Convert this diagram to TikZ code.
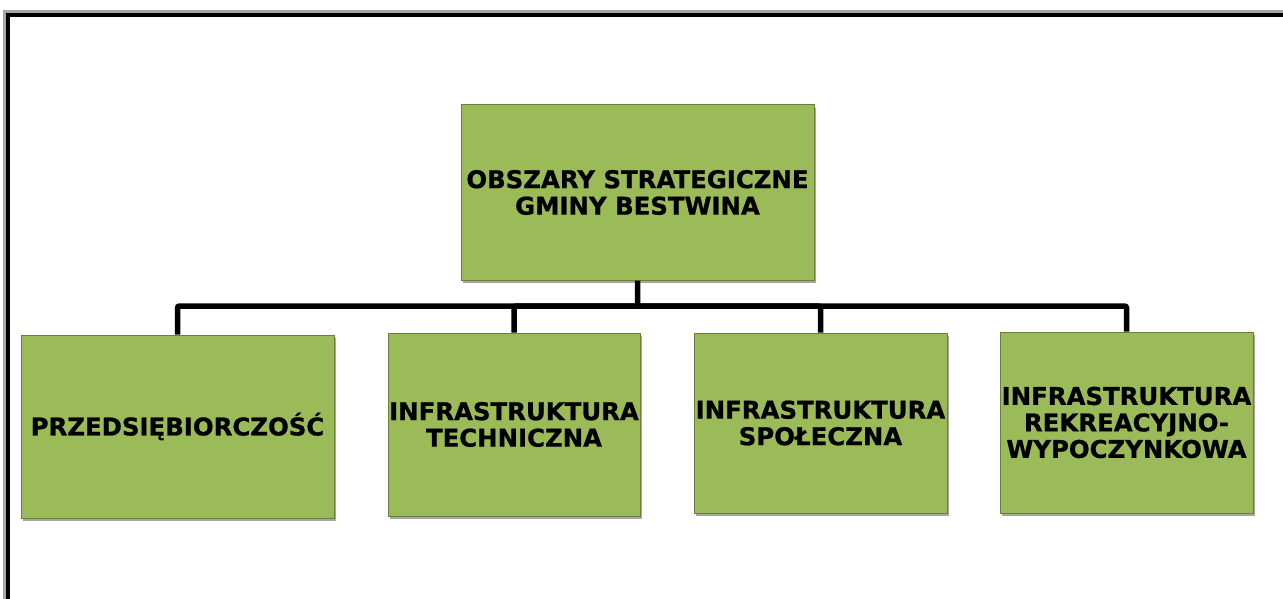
\documentclass[tikz,border=0pt]{standalone}
\usepackage{fontspec}
\setmainfont{DejaVu Sans}[BoldFeatures={FakeBold=0.9}]
\usetikzlibrary{shadows}
\definecolor{boxgreen}{HTML}{9BBB59}
\definecolor{boxedge}{HTML}{6A7F3C}
\begin{document}
\begin{tikzpicture}[x=1pt,y=-1pt,
  box/.style={draw=boxedge, line width=1pt, fill=boxgreen, rectangle, inner sep=0pt,
    align=center, font=\bfseries\fontsize{24.4}{26.5}\selectfont, text=black,
    drop shadow={shadow xshift=1.5pt, shadow yshift=-3pt, opacity=0.35, fill=black}},
  conn/.style={line width=5.5pt, black, rounded corners=2pt}]
\useasboundingbox (0,0) rectangle (1283,599);
% frame
\draw[line width=2.5pt, gray!70] (4.5,620) -- (4.5,11.5) -- (1300,11.5);
\draw[line width=3.5pt, black] (8,620) -- (8,15) -- (1300,15);
% boxes
\node[box, minimum width=353pt, minimum height=175pt] (top) at (637.5,192.5) {OBSZARY STRATEGICZNE\\GMINY BESTWINA};
\node[box, minimum width=313pt, minimum height=183pt] (b1) at (177.5,426.5) {PRZEDSIĘBIORCZOŚĆ};
\node[box, minimum width=252pt, minimum height=183pt] (b2) at (514,424.5) {INFRASTRUKTURA\\TECHNICZNA};
\node[box, minimum width=253pt, minimum height=180pt] (b3) at (820.5,423) {INFRASTRUKTURA\\SPOŁECZNA};
\node[box, minimum width=253pt, minimum height=181pt] (b4) at (1126.5,422.5) {INFRASTRUKTURA\\REKREACYJNO-\\WYPOCZYNKOWA};
% connectors
\coordinate (j) at (637.5,306);
\draw[conn] (top.south) -- (j) -| (b1.north);
\draw[conn] (j) -| (b2.north);
\draw[conn] (j) -| (b3.north);
\draw[conn] (j) -| (b4.north);
\end{tikzpicture}
\end{document}
